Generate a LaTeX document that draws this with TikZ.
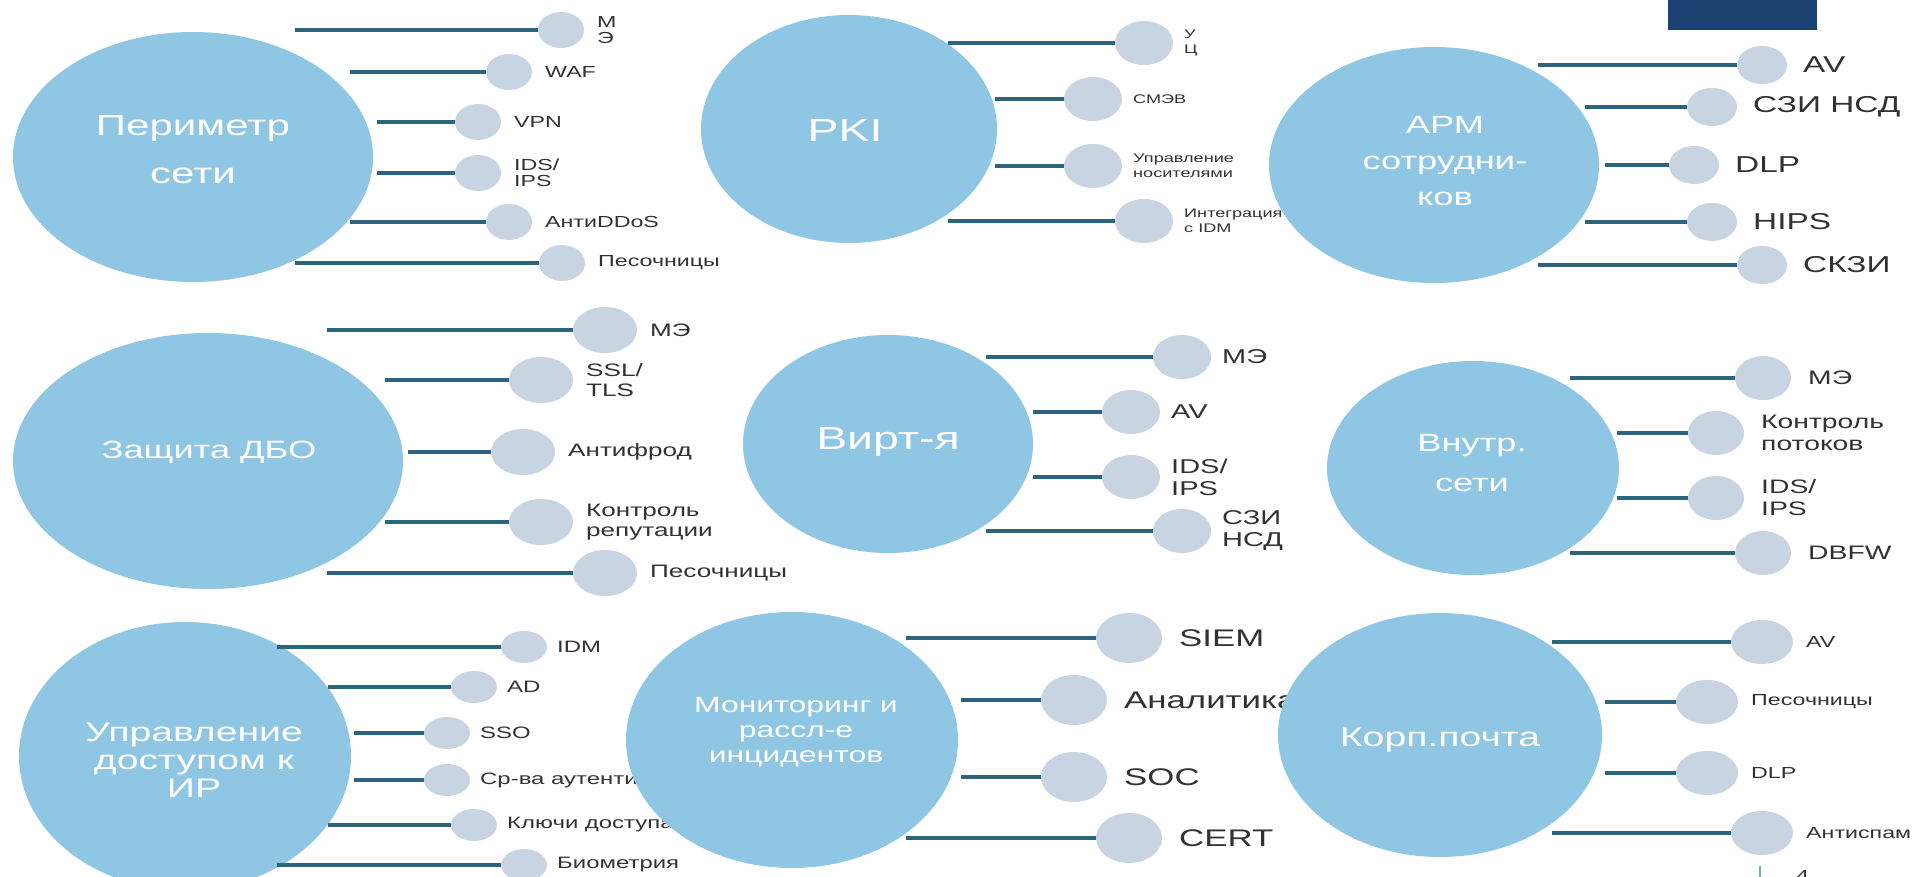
\documentclass[tikz,border=0pt]{standalone}
\usepackage{fontspec}
\setmainfont[FakeStretch=1.45]{Liberation Sans}
\usetikzlibrary{positioning,shapes.geometric}

\definecolor{hubblue}{RGB}{142,198,228}
\definecolor{leafgrey}{RGB}{200,212,225}
\definecolor{linkteal}{RGB}{44,100,126}
\definecolor{leafink}{RGB}{50,50,50}
\definecolor{navybar}{RGB}{28,66,114}
\definecolor{tickblue}{RGB}{120,165,200}

\tikzset{
  hub/.style={ellipse, fill=hubblue, inner sep=0pt, outer sep=0pt},
  hubtext/.style={text=white, align=center, inner sep=0pt},
  leaf/.style={ellipse, fill=leafgrey, inner sep=0pt, outer sep=0pt},
  leaftext/.style={inner sep=0pt, align=left, text=leafink},
  link/.style={draw=linkteal, line width=3.5pt},
}

\newcommand{\fs}[2]{\fontsize{#1}{#2}\selectfont}
% one spoke: name, line start x, y, circle x, text
\newcommand{\spoke}[5]{%
  \coordinate (#1s) at (#2,#3);
  \node[leaf] (#1) at (#4,#3) {};
  \node[leaftext, right=of #1] (#1t) {#5};
  \draw[link] (#1s) -- (#1);
}

\begin{document}
\begin{tikzpicture}[x=1pt, y=-1pt]
  % Background
  \useasboundingbox (0,0) rectangle (1913,877);
  \clip (0,0) rectangle (1913,877);
  \fill[white] (0,0) rectangle (1913,877);

  % Corner bar
  \fill[navybar] (1668,0) rectangle (1817,30);

  % Perimeter
  \node[hub, minimum width=360pt, minimum height=250pt] (per) at (193,157) {};
  \node[hubtext, font=\fs{29}{48}] (pert) at (193,150) {Периметр\\сети};
  \begin{scope}[node distance=13pt, leaf/.append style={minimum width=46pt, minimum height=36pt},
    leaftext/.append style={font=\fs{16}{16}}]
    \spoke{per1}{295}{30}{561}{М\\Э}
    \spoke{per2}{350}{72}{509}{WAF}
    \spoke{per3}{377}{122}{478}{VPN}
    \spoke{per4}{377}{173}{478}{IDS/\\IPS}
    \spoke{per5}{350}{222}{509}{АнтиDDoS}
    \spoke{per6}{295}{263}{562}{Песочницы}
  \end{scope}

  % PKI
  \node[hub, minimum width=296pt, minimum height=228pt] (pki) at (849,129) {};
  \node[hubtext, font=\fs{32}{36}] (pkit) at (845,130) {PKI};
  \begin{scope}[node distance=11pt, leaf/.append style={minimum width=58pt, minimum height=44pt},
    leaftext/.append style={font=\fs{12.5}{15}}]
    \spoke{pki1}{948}{43}{1144}{У\\Ц}
    \spoke{pki2}{995}{99}{1093}{СМЭВ}
    \spoke{pki3}{995}{166}{1093}{Управление\\носителями}
    \spoke{pki4}{948}{221}{1144}{Интеграция\\с IDM}
  \end{scope}

  % Workstations
  \node[hub, minimum width=330pt, minimum height=236pt] (arm) at (1434,165) {};
  \node[hubtext, font=\fs{25}{36}] (armt) at (1445,161) {АРМ\\сотрудни-\\ков};
  \begin{scope}[node distance=16pt, leaf/.append style={minimum width=50pt, minimum height=38pt},
    leaftext/.append style={font=\fs{23}{25}}]
    \spoke{arm1}{1538}{65}{1762}{AV}
    \spoke{arm2}{1585}{107}{1712}{СЗИ НСД}
    \spoke{arm3}{1605}{165}{1694}{DLP}
    \spoke{arm4}{1585}{222}{1712}{HIPS}
    \spoke{arm5}{1538}{265}{1762}{СКЗИ}
  \end{scope}

  % Remote banking
  \node[hub, minimum width=390pt, minimum height=256pt] (dbo) at (208,461) {};
  \node[hubtext, font=\fs{25}{30}] (dbot) at (209,452) {Защита ДБО};
  \begin{scope}[node distance=13pt, leaf/.append style={minimum width=64pt, minimum height=46pt},
    leaftext/.append style={font=\fs{18}{20}}]
    \spoke{dbo1}{327}{330}{605}{МЭ}
    \spoke{dbo2}{385}{380}{541}{SSL/\\TLS}
    \spoke{dbo3}{408}{452}{523}{Антифрод}
    \spoke{dbo4}{385}{522}{541}{Контроль\\репутации}
    \spoke{dbo5}{327}{573}{605}{Песочницы}
  \end{scope}

  % Virtualisation
  \node[hub, minimum width=290pt, minimum height=218pt] (vir) at (888,444) {};
  \node[hubtext, font=\fs{32}{36}] (virt) at (888,442) {Вирт-я};
  \begin{scope}[node distance=11pt, leaf/.append style={minimum width=58pt, minimum height=44pt},
    leaftext/.append style={font=\fs{20}{22}}]
    \spoke{vir1}{986}{357}{1182}{МЭ}
    \spoke{vir2}{1033}{412}{1131}{AV}
    \spoke{vir3}{1033}{477}{1131}{IDS/\\IPS}
    \spoke{vir4}{986}{531}{1182}{СЗИ\\НСД}
  \end{scope}

  % Internal networks
  \node[hub, minimum width=292pt, minimum height=214pt] (vnu) at (1473,468) {};
  \node[hubtext, font=\fs{25}{40}] (vnut) at (1472,463) {Внутр.\\сети};
  \begin{scope}[node distance=17pt, leaf/.append style={minimum width=56pt, minimum height=44pt},
    leaftext/.append style={font=\fs{19.5}{22}}]
    \spoke{vnu1}{1570}{378}{1763}{МЭ}
    \spoke{vnu2}{1617}{433}{1716}{Контроль\\потоков}
    \spoke{vnu3}{1617}{498}{1716}{IDS/\\IPS}
    \spoke{vnu4}{1570}{553}{1763}{DBFW}
  \end{scope}

  % Access management
  \node[hub, minimum width=332pt, minimum height=268pt] (upr) at (185,756) {};
  \node[hubtext, font=\fs{27}{28}] (uprt) at (194,760) {Управление\\доступом к\\ИР};
  \begin{scope}[node distance=10pt, leaf/.append style={minimum width=46pt, minimum height=32pt},
    leaftext/.append style={font=\fs{16.5}{18}}]
    \spoke{upr1}{277}{647}{524}{IDM}
    \spoke{upr2}{328}{687}{474}{AD}
    \spoke{upr3}{354}{733}{447}{SSO}
    \spoke{upr4}{354}{780}{447}{Ср-ва аутентификации}
    \spoke{upr5}{328}{825}{474}{Ключи доступа}
    \spoke{upr6}{277}{865}{524}{Биометрия}
  \end{scope}

  % Monitoring
  \node[hub, minimum width=332pt, minimum height=256pt] (mon) at (792,740) {};
  \node[hubtext, font=\fs{22}{25}] (mont) at (796,732) {Мониторинг и\\рассл-е\\инцидентов};
  \begin{scope}[node distance=17pt, leaf/.append style={minimum width=66pt, minimum height=50pt},
    leaftext/.append style={font=\fs{24}{26}}]
    \spoke{mon1}{906}{638}{1129}{SIEM}
    \spoke{mon2}{961}{700}{1074}{Аналитика}
    \spoke{mon3}{961}{777}{1074}{SOC}
    \spoke{mon4}{906}{838}{1129}{CERT}
  \end{scope}

  % Corporate mail
  \node[hub, minimum width=324pt, minimum height=244pt] (krp) at (1440,735) {};
  \node[hubtext, font=\fs{27}{30}] (krpt) at (1440,740) {Корп.почта};
  \begin{scope}[node distance=13pt, leaf/.append style={minimum width=62pt, minimum height=44pt},
    leaftext/.append style={font=\fs{16}{18}}]
    \spoke{krp1}{1552}{642}{1762}{AV}
    \spoke{krp2}{1605}{702}{1707}{Песочницы}
    \spoke{krp3}{1605}{773}{1707}{DLP}
    \spoke{krp4}{1552}{833}{1762}{Антиспам}
  \end{scope}

  % Page number
  \coordinate (tick) at (1760,866);
  \draw[tickblue, line width=2pt] (tick) -- ++(0,12);
  \node[leaftext, font=\fs{16}{16}, anchor=north west] (pgno) at (1796,870) {4};
\end{tikzpicture}
\end{document}
